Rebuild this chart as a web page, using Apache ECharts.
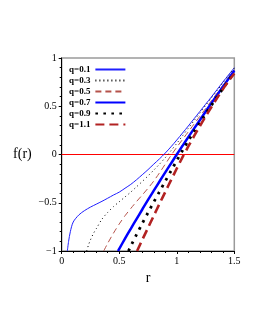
<!DOCTYPE html>
<html>
<head>
<meta charset="utf-8">
<script src="https://cdn.jsdelivr.net/npm/echarts@6/dist/echarts.min.js"></script>
<style>html,body{margin:0;padding:0;background:#fff}#c{width:258px;height:333px}</style>
</head>
<body>
<div id="c"></div>
<script>
// Data
const seriesNames = ['q=0.1', 'q=0.3', 'q=0.5', 'q=0.7', 'q=0.9', 'q=1.1'];

const rQ01 = [0.049, 0.06, 0.075, 0.10, 0.15, 0.20, 0.25, 0.30, 0.35, 0.40, 0.45, 0.50, 0.55, 0.60, 0.65, 0.70, 0.75, 0.80, 0.85, 0.90, 0.95, 1.0, 1.05, 1.1, 1.15, 1.2, 1.25, 1.3, 1.35, 1.4, 1.45, 1.5];
const fQ01 = [-1, -0.90, -0.80, -0.70, -0.625, -0.58, -0.545, -0.515, -0.485, -0.453, -0.42, -0.39, -0.35, -0.31, -0.262, -0.21, -0.157, -0.10, -0.045, 0.015, 0.08, 0.15, 0.222, 0.295, 0.37, 0.445, 0.52, 0.595, 0.672, 0.75, 0.825, 0.90];

const rQ03 = [0.217, 0.235, 0.25, 0.275, 0.30, 0.35, 0.40, 0.45, 0.50, 0.55, 0.60, 0.65, 0.70, 0.75, 0.80, 0.85, 0.90, 0.95, 1.0, 1.05, 1.1, 1.15, 1.2, 1.25, 1.3, 1.35, 1.4, 1.45, 1.5];
const fQ03 = [-1, -0.93, -0.885, -0.82, -0.77, -0.67, -0.60, -0.54, -0.49, -0.44, -0.39, -0.335, -0.28, -0.222, -0.162, -0.10, -0.033, 0.04, 0.115, 0.193, 0.272, 0.35, 0.428, 0.507, 0.585, 0.662, 0.74, 0.818, 0.895];

const rQ05 = [0.365, 0.40, 0.45, 0.50, 0.55, 0.60, 0.65, 0.70, 0.75, 0.80, 0.85, 0.90, 0.95, 1.0, 1.05, 1.1, 1.15, 1.2, 1.25, 1.3, 1.35, 1.4, 1.45, 1.5];
const fQ05 = [-1, -0.92, -0.815, -0.72, -0.635, -0.56, -0.488, -0.42, -0.35, -0.275, -0.19, -0.10, -0.01, 0.075, 0.155, 0.235, 0.315, 0.395, 0.475, 0.555, 0.635, 0.715, 0.795, 0.875];

const rQ07 = [0.49, 0.50, 0.55, 0.60, 0.65, 0.70, 0.75, 0.80, 0.85, 0.90, 0.95, 1.0, 1.05, 1.1, 1.15, 1.2, 1.25, 1.3, 1.35, 1.4, 1.45, 1.5];
const fQ07 = [-1, -0.978, -0.872, -0.77, -0.67, -0.57, -0.47, -0.375, -0.28, -0.185, -0.093, 0, 0.09, 0.18, 0.268, 0.355, 0.443, 0.53, 0.615, 0.70, 0.785, 0.87];

const rQ09 = [0.58, 0.60, 0.65, 0.70, 0.75, 0.80, 0.85, 0.90, 0.95, 1.0, 1.05, 1.1, 1.15, 1.2, 1.25, 1.3, 1.35, 1.4, 1.45, 1.5];
const fQ09 = [-1, -0.95, -0.83, -0.715, -0.603, -0.493, -0.385, -0.277, -0.17, -0.063, 0.042, 0.143, 0.238, 0.328, 0.418, 0.507, 0.595, 0.682, 0.768, 0.855];

const rQ11 = [0.655, 0.70, 0.75, 0.80, 0.85, 0.90, 0.95, 1.0, 1.05, 1.1, 1.15, 1.2, 1.25, 1.3, 1.35, 1.4, 1.45, 1.5];
const fQ11 = [-1, -0.885, -0.76, -0.635, -0.51, -0.388, -0.266, -0.145, -0.028, 0.083, 0.19, 0.293, 0.393, 0.49, 0.584, 0.676, 0.76, 0.84];

const zeroR = [0, 1.5];
const zeroF = [0, 0];

const xTicks = [0, 0.5, 1, 1.5];
const yTicks = [-1, -0.5, 0, 0.5, 1];

function pairs(rs, fs) { return rs.map((r, i) => [r, fs[i]]); }

const styles = [
  { color: '#1f1fff', width: 1, type: 'solid' },
  { color: '#000000', width: 1, type: [1, 3] },
  { color: '#b5524a', width: 1, type: [6, 4] },
  { color: '#0000ff', width: 2.5, type: 'solid' },
  { color: '#000000', width: 2.8, type: [2.6, 5.4] },
  { color: '#b22222', width: 2.6, type: [9, 5] }
];
const dataSets = [pairs(rQ01, fQ01), pairs(rQ03, fQ03), pairs(rQ05, fQ05), pairs(rQ07, fQ07), pairs(rQ09, fQ09), pairs(rQ11, fQ11)];

const FONT = 'Liberation Serif';
const fmt = v => String(v).replace('-', '\u2212');

const series = seriesNames.map((n, i) => ({
  name: n,
  type: 'line',
  data: dataSets[i],
  showSymbol: false,
  symbol: 'none',
  smooth: 0.3,
  clip: true,
  color: styles[i].color,
  lineStyle: { color: styles[i].color, width: styles[i].width, type: styles[i].type, cap: 'butt' },
  z: 3
}));
series.unshift({
  name: 'zero',
  type: 'line',
  data: pairs(zeroR, zeroF),
  showSymbol: false,
  symbol: 'none',
  lineStyle: { color: '#ff0000', width: 1 },
  z: 2
});

const chart = echarts.init(document.getElementById('c'), null, { renderer: 'canvas' });
chart.setOption({
  animation: false,
  backgroundColor: '#ffffff',
  grid: { left: 61.7, right: 23.7, top: 58, bottom: 82, show: true, borderColor: '#9a9a9a', borderWidth: 1.5, backgroundColor: 'transparent' },
  legend: {
    data: seriesNames,
    orient: 'vertical',
    left: 64,
    top: 60,
    align: 'right',
    itemWidth: 30,
    itemHeight: 8,
    itemGap: 2,
    itemStyle: { opacity: 0 },
    textStyle: { fontFamily: FONT, fontWeight: 'bold', fontSize: 9, color: '#000' }
  },
  xAxis: {
    type: 'value',
    min: xTicks[0],
    max: xTicks[xTicks.length - 1],
    interval: 0.5,
    name: 'r',
    nameLocation: 'middle',
    nameGap: 16,
    nameTextStyle: { fontFamily: FONT, fontSize: 14, color: '#000' },
    axisLine: { show: true, onZero: false, lineStyle: { color: '#000', width: 1 } },
    axisTick: { show: true, length: 3, lineStyle: { color: '#000' } },
    minorTick: { show: true, splitNumber: 5, length: 2, lineStyle: { color: '#000' } },
    splitLine: { show: false },
    axisLabel: { fontFamily: FONT, fontSize: 10, color: '#000', margin: 5, formatter: fmt }
  },
  yAxis: {
    type: 'value',
    min: yTicks[0],
    max: yTicks[yTicks.length - 1],
    interval: 0.5,
    name: 'f(r)',
    nameLocation: 'middle',
    nameRotate: 0,
    nameGap: 30,
    nameTextStyle: { fontFamily: FONT, fontSize: 14, color: '#000' },
    axisLine: { show: true, onZero: false, lineStyle: { color: '#000', width: 1 } },
    axisTick: { show: true, length: 3, lineStyle: { color: '#000' } },
    minorTick: { show: true, splitNumber: 5, length: 2, lineStyle: { color: '#000' } },
    splitLine: { show: false },
    axisLabel: { fontFamily: FONT, fontSize: 10, color: '#000', margin: 5, formatter: fmt }
  },
  series: series
});
</script>
</body>
</html>
